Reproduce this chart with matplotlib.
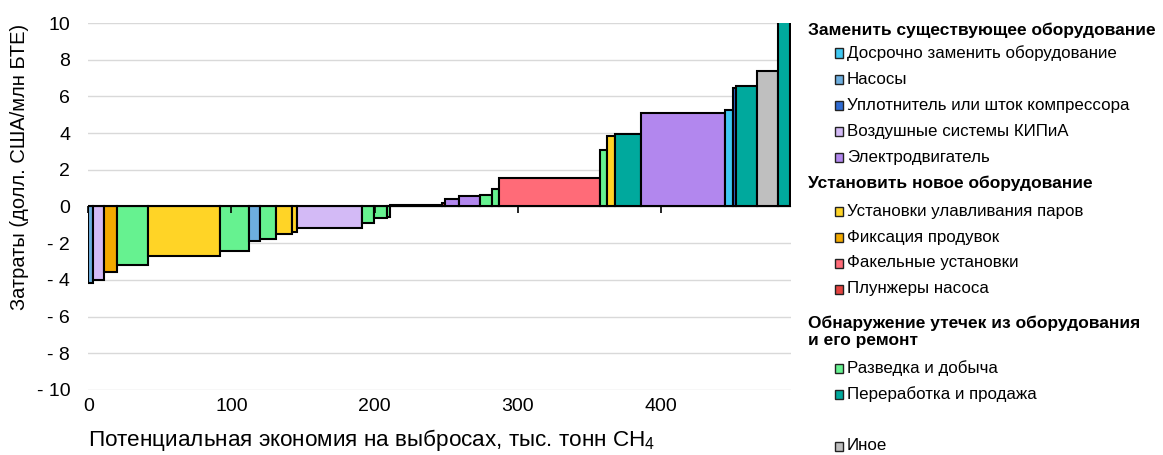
import numpy as np
import matplotlib
matplotlib.use("Agg")
import matplotlib.pyplot as plt
from matplotlib.patches import Rectangle

plt.rcParams['font.family'] = ['Liberation Sans', 'DejaVu Sans']
plt.rcParams['mathtext.default'] = 'regular'

# ---------------- data ----------------
colors = {
    "early": "#3FC8F2",
    "pumps": "#6DAEDF",
    "rod": "#2F6BD2",
    "pneu": "#D3BAF6",
    "motor": "#B287EE",
    "vru": "#FFD426",
    "blow": "#F2A900",
    "flare": "#FF6B78",
    "plunger": "#E4433F",
    "ep": "#66F290",
    "ps": "#00A99D",
    "other": "#BFBFBF",
}

bar_cat = ["pumps", "pneu", "blow", "ep", "vru", "ep", "pumps", "ep", "vru", "vru",
           "pneu", "ep", "ep", "ep", "other", "plunger", "motor", "motor", "ep", "ep",
           "flare", "ep", "vru", "ps", "motor", "early", "rod", "ps", "other", "ps"]
bar_width = [3.5, 7.7, 8.7, 22.1, 50.1, 19.8, 8.2, 11.2, 10.9, 3.5,
             45.5, 8.1, 9.4, 1.8, 36.6, 2.3, 9.3, 15.2, 8.2, 4.6,
             70.6, 4.7, 5.8, 18.5, 58.2, 5.4, 2.3, 14.5, 15.1, 8.6]
bar_value = [-4.16, -4.0, -3.58, -3.19, -2.69, -2.42, -1.87, -1.78, -1.49, -1.40,
             -1.18, -0.91, -0.63, -0.55, 0.09, 0.2, 0.4, 0.58, 0.6, 0.95,
             1.55, 3.06, 3.83, 3.96, 5.08, 5.28, 6.45, 6.56, 7.4, 12.0]

x_ticks = [0, 100, 200, 300, 400]
y_ticks = [-10, -8, -6, -4, -2, 0, 2, 4, 6, 8, 10]

legend_groups = [
    ("Заменить существующее оборудование",
     ["Досрочно заменить оборудование", "Насосы", "Уплотнитель или шток компрессора",
      "Воздушные системы КИПиА", "Электродвигатель"],
     ["early", "pumps", "rod", "pneu", "motor"]),
    ("Установить новое оборудование",
     ["Установки улавливания паров", "Фиксация продувок", "Факельные установки",
      "Плунжеры насоса"],
     ["vru", "blow", "flare", "plunger"]),
    ("Обнаружение утечек из оборудования\nи его ремонт",
     ["Разведка и добыча", "Переработка и продажа"],
     ["ep", "ps"]),
    (None, ["Иное"], ["other"]),
]

x_label = "Потенциальная экономия на выбросах, тыс. тонн CH$_4$"
y_label = "Затраты (долл. США/млн БТЕ)"

# ---------------- figure ----------------
W, H = 1163, 455
fig = plt.figure(figsize=(W / 100, H / 100), dpi=100)

def fx(px):
    return px / W

def fy(py):
    return 1 - py / H

left, right, top, bottom = 88.3, 790.5, 23.0, 390.0
ax = fig.add_axes([fx(left), fy(bottom), fx(right) - fx(left), fy(top) - fy(bottom)])

lefts = np.concatenate([[0], np.cumsum(bar_width)[:-1]])
ax.bar(lefts, bar_value, width=bar_width, align='edge',
       color=[colors[c] for c in bar_cat], edgecolor='black', linewidth=1.5, zorder=3)

ax.set_xlim(0, float(np.sum(bar_width)))
ax.set_ylim(-10, 10)
ax.set_yticks(y_ticks)
ax.set_yticklabels([("- %d" % abs(v)) if v < 0 else "%d" % v for v in y_ticks])
ax.set_xticks(x_ticks)
ax.set_xticklabels([str(v) for v in x_ticks])
ax.grid(axis='y', color='#D9D9D9', linewidth=1.0, zorder=0)
ax.grid(axis='x', visible=False)
for s in ax.spines.values():
    s.set_visible(False)
ax.tick_params(axis='y', length=0, pad=13, labelsize=14)
ax.tick_params(axis='x', length=0, pad=6, labelsize=14)

sec = ax.secondary_xaxis(0.5)
sec.set_xticks(x_ticks)
sec.set_xticklabels([])
sec.tick_params(axis='x', direction='in', length=5, width=1.2, color='black')
sec.spines['bottom'].set_linewidth(1.5)
sec.set_zorder(5)

fig.text(fx(372), fy(440), x_label, ha='center', va='center', fontsize=16.2)
fig.text(fx(20), fy(167), y_label, ha='center', va='center', rotation=90, fontsize=14.5)

# ---------------- legend ----------------
header_y = [30, 183.5, 323, 0]
item_y = [[53, 79.5, 105.5, 131.5, 157.5], [211.5, 237, 263, 289], [368, 394], [446]]
for gi, (hdr, labels, keys) in enumerate(legend_groups):
    if hdr is not None:
        lines = hdr.split("\n")
        for li, ln in enumerate(lines):
            fig.text(fx(808), fy(header_y[gi] + li * 18), ln, ha='left', va='center',
                     fontsize=12.5, fontweight='bold')
    for lab, key, yy in zip(labels, keys, item_y[gi]):
        sq = Rectangle((fx(834.5), fy(yy + 4.5)), fx(9), 9 / H, transform=fig.transFigure,
                       facecolor=colors[key], edgecolor='#222222', linewidth=1.0)
        fig.add_artist(sq)
        fig.text(fx(847), fy(yy), lab, ha='left', va='center', fontsize=12.2)

fig.savefig("out.png", dpi=100)
